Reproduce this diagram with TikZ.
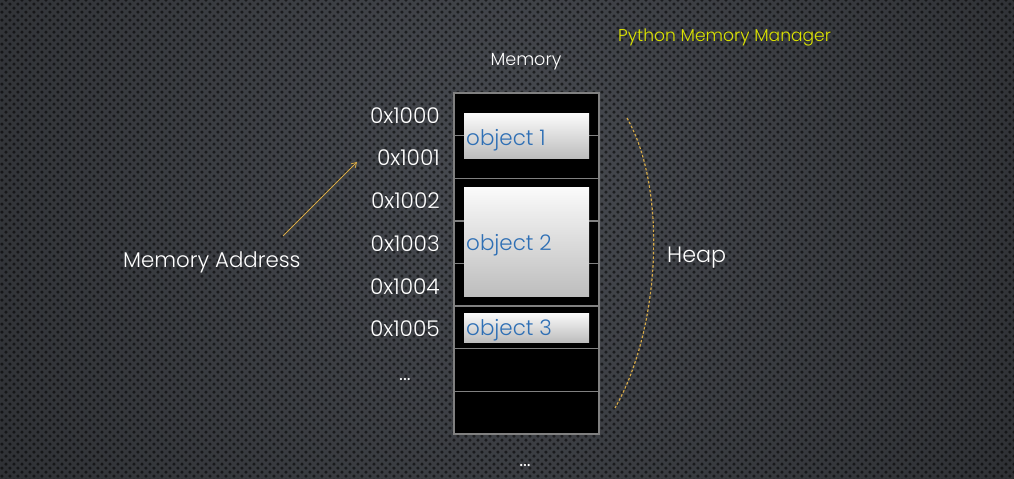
\documentclass[tikz,border=0pt]{standalone}
\usepackage{fontspec}
\setmainfont{Poppins Light}
\usetikzlibrary{arrows.meta,patterns,shadings}
\definecolor{bgin}{HTML}{474A50}
\definecolor{bgout}{HTML}{18191B}
\definecolor{cellline}{HTML}{808080}
\definecolor{objtop}{HTML}{FAFAFA}
\definecolor{objbot}{HTML}{BDBDBD}
\definecolor{objtext}{HTML}{2E6FB5}
\definecolor{pmm}{HTML}{DCE400}
\definecolor{goldline}{HTML}{D6AA48}
\pgfdeclarepatternformonly{bgdots}{\pgfqpoint{0pt}{0pt}}{\pgfqpoint{6.8pt}{6.8pt}}{\pgfqpoint{6.8pt}{6.8pt}}{%
  \pgfpathcircle{\pgfqpoint{1.7pt}{1.7pt}}{1.5pt}%
  \pgfpathcircle{\pgfqpoint{5.1pt}{5.1pt}}{1.5pt}%
  \pgfusepath{fill}}
\tikzset{
  cellbox/.style={draw=cellline, line width=1.1pt, fill=black, minimum width=4.35cm, minimum height=1.279cm, inner sep=0pt, outer sep=0pt},
  objbox/.style={shading=axis, top color=objtop, bottom color=objbot, draw=none, minimum width=3.75cm, inner sep=0pt},
  objlbl/.style={anchor=west, inner sep=0pt, text=objtext, font=\fontsize{18.3}{20}\selectfont},
  addr/.style={anchor=east, inner sep=0pt, text=white, font=\fontsize{18.5}{20}\selectfont},
  lbl/.style={inner sep=0pt, text=white},
}
\begin{document}
\begin{tikzpicture}[x=0.03cm, y=-0.03cm]
\useasboundingbox (0,0) rectangle (1014,478);
\begin{scope}
  \clip (0,0) rectangle (1014,478);
  \shade[inner color=bgin, outer color=bgout] (500,170) circle (1150);
  \fill[pattern=bgdots, pattern color=black, fill opacity=0.55] (0,0) rectangle (1014,478);
\end{scope}

% memory cells
\foreach \i in {1,...,8} {
  \node[cellbox] (c\i) at (526.5, {93 + 42.625*(\i-0.5)}) {};
}
% objects
\node[objbox, minimum height=1.32cm] (o1) at (526.5,136) {};
\node[objbox, minimum height=3.24cm] (o2) at (526.5,242) {};
\node[objbox, minimum height=0.87cm] (o3) at (526.5,327.5) {};
\node[objlbl] (l1) at (466,140) {object 1};
\node[objlbl] (l2) at (466,245) {object 2};
\node[objlbl] (l3) at (466,330) {object 3};

% addresses
\node[addr] (a1) at (440, 116) {0x1000};
\node[addr] (a2) at (440, 158) {0x1001};
\node[addr] (a3) at (440, 201) {0x1002};
\node[addr] (a4) at (440, 244) {0x1003};
\node[addr] (a5) at (440, 287) {0x1004};
\node[addr] (a6) at (440, 329) {0x1005};
\node[lbl, font=\fontsize{18}{20}\selectfont] (d1) at (405, 380) {...};
\node[lbl, font=\fontsize{18}{20}\selectfont] (d2) at (525, 466) {...};

\node[lbl, font=\fontsize{15}{17}\selectfont] (mem) at (526, 62) {Memory};
\node[lbl, font=\fontsize{14.6}{16}\selectfont, text=pmm, anchor=west] (pm) at (618, 37) {Python Memory Manager};
\node[lbl, font=\fontsize{18.2}{20}\selectfont, anchor=west] (ma) at (123, 262) {Memory Address};
\node[lbl, font=\fontsize{19}{21}\selectfont, anchor=west] (heap) at (667, 258) {Heap};

% arrow
\coordinate (arS) at (283,236);
\coordinate (arE) at (357,162);
\draw[goldline, line width=0.7pt, -{Straight Barb[length=4pt,width=5pt]}] (arS) -- (arE);

% heap curve
\coordinate (hS) at (627,118);
\coordinate (hE) at (615,408);
\draw[goldline, line width=1pt, dash pattern=on 2.2pt off 1.6pt] (hS) .. controls (668,190) and (660,330) .. (hE);
\end{tikzpicture}
\end{document}
